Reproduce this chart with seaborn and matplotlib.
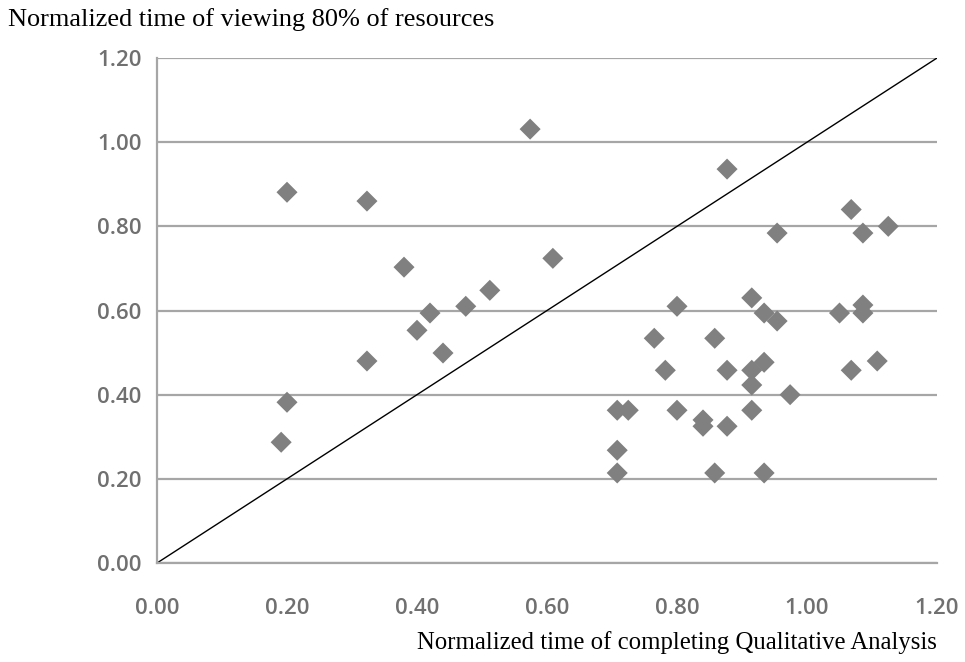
import pandas as pd
import numpy as np
import matplotlib
matplotlib.use("Agg")
import matplotlib.pyplot as plt
import seaborn as sns

# Normalized times
qualitative_time = [
    0.191, 0.200, 0.200, 0.323, 0.323, 0.380, 0.400, 0.420, 0.440, 0.475,
    0.512, 0.574, 0.609, 0.708, 0.708, 0.708, 0.725, 0.765, 0.782, 0.800,
    0.800, 0.840, 0.840, 0.858, 0.858, 0.877, 0.877, 0.877, 0.915, 0.915,
    0.915, 0.915, 0.934, 0.934, 0.934, 0.954, 0.954, 0.974, 1.050, 1.068,
    1.068, 1.086, 1.086, 1.086, 1.108, 1.125,
]
viewing_time = [
    0.287, 0.881, 0.382, 0.860, 0.480, 0.703, 0.553, 0.594, 0.499, 0.610,
    0.648, 1.031, 0.724, 0.363, 0.268, 0.214, 0.363, 0.534, 0.458, 0.610,
    0.363, 0.340, 0.325, 0.534, 0.214, 0.458, 0.325, 0.936, 0.630, 0.458,
    0.423, 0.363, 0.594, 0.477, 0.214, 0.575, 0.784, 0.400, 0.594, 0.840,
    0.458, 0.784, 0.613, 0.594, 0.480, 0.800,
]
tick_values = [0.0, 0.2, 0.4, 0.6, 0.8, 1.0, 1.2]
x_title = "Normalized time of completing Qualitative Analysis"
y_title = "Normalized time of viewing 80% of resources"


def main():
    df = pd.DataFrame({"x": qualitative_time, "y": viewing_time})

    sns.set_style("white")
    plt.rcParams["font.family"] = ["Open Sans", "DejaVu Sans"]

    fig = plt.figure(figsize=(9.65, 6.62), dpi=100)
    ax = fig.add_axes([0.1627, 0.1495, 0.971 - 0.1627, 0.9124 - 0.1495])

    grid_col = "#a6a6a6"
    ax.set_xlim(0, 1.2)
    ax.set_ylim(0, 1.2)
    ax.set_xticks(tick_values)
    ax.set_yticks(tick_values)
    ax.set_xticklabels([f"{v:.2f}" for v in tick_values])
    ax.set_yticklabels([f"{v:.2f}" for v in tick_values])
    ax.yaxis.grid(True, color=grid_col, linewidth=1.6)
    ax.xaxis.grid(False)
    ax.set_axisbelow(True)

    # reference line y = x
    ax.axline((0, 0), slope=1, color="black", linewidth=1.0, zorder=2)

    sns.scatterplot(
        data=df, x="x", y="y", ax=ax,
        marker="D", s=115, color="#808080", edgecolor="none", zorder=3
    )

    for side in ["top", "right"]:
        ax.spines[side].set_visible(False)
    for side in ["left", "bottom"]:
        ax.spines[side].set_color(grid_col)
        ax.spines[side].set_linewidth(1.6)
    ax.tick_params(axis="both", direction="out", length=7, width=1.6,
                   color=grid_col, labelcolor="#707070", labelsize=16)
    ax.tick_params(axis="y", pad=4)
    ax.tick_params(axis="x", pad=18)
    for lab in ax.get_xticklabels() + ax.get_yticklabels():
        lab.set_fontweight("semibold")

    ax.set_xlabel("")
    ax.set_ylabel("")
    fig.text(0.008, 0.970, y_title, family=["Liberation Serif"], fontsize=18.9,
             ha="left", va="center", color="black")
    fig.text(0.971, 0.029, x_title, family=["Liberation Serif"], fontsize=17.8,
             ha="right", va="center", color="black")

    fig.savefig("out.png", dpi=100)
    plt.close(fig)


if __name__ == "__main__":
    main()
